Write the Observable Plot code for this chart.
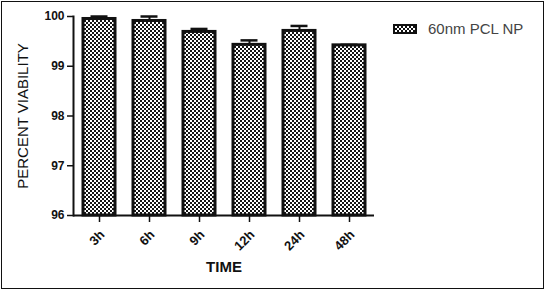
<!DOCTYPE html>
<html>
<head>
<meta charset="utf-8">
<script src="https://cdn.jsdelivr.net/npm/d3@7"></script>
<script src="https://cdn.jsdelivr.net/npm/@observablehq/plot@0.6"></script>
<style>
  html, body { margin: 0; padding: 0; background: #fff; }
  #wrap { position: relative; width: 545px; height: 291px; overflow: hidden; font-family: "Liberation Sans", Arial, sans-serif; }
  #border { position: absolute; left: 1px; top: 1px; width: 541px; height: 286px; border: 1.5px solid #111; }
  #chart { position: absolute; left: 0; top: 0; }
  #legend { position: absolute; left: 393px; top: 20px; display: flex; align-items: center; }
  #legend .sw { width: 20px; height: 6px; border: 2px solid #111;
    background: repeating-conic-gradient(#111 0 25%, #fff 0 50%) 0 0 / 4px 4px; }
  #legend .lab { margin-left: 11px; font-size: 15px; color: #444; }
</style>
</head>
<body>
<div id="wrap">
  <div id="chart"></div>
  <div id="border"></div>
  <div id="legend"><div class="sw"></div><div class="lab"></div></div>
</div>
<script>
const times = ["3h", "6h", "9h", "12h", "24h", "48h"];
const viability = [99.95, 99.91, 99.69, 99.43, 99.71, 99.42];
const errors = [0.05, 0.09, 0.06, 0.09, 0.10, 0.01];
const yTicks = [96, 97, 98, 99, 100];
const seriesName = "60nm PCL NP";
const yLabel = "PERCENT VIABILITY";
const xLabel = "TIME";

const data = times.map((t, i) => ({ time: t, value: viability[i], err: errors[i] }));

const font = "'Liberation Sans', Arial, sans-serif";
const ink = "#111";

const svg = Plot.plot({
  width: 545,
  height: 291,
  marginLeft: 73,
  marginRight: 171,
  marginTop: 16,
  marginBottom: 76,
  style: { fontFamily: font, background: "transparent", color: ink, overflow: "visible" },
  x: { domain: times, paddingInner: 0.36, paddingOuter: 0.19, label: null },
  y: { domain: [96, 100], label: null },
  marks: [
    Plot.barY(data, { x: "time", y1: 96, y2: "value", fill: "url(#chk)", stroke: ink, strokeWidth: 3 }),
    Plot.ruleX(data, { x: "time", y1: "value", y2: d => d.value + d.err, stroke: ink, strokeWidth: 2 }),
    Plot.tickY(data, { x: "time", y: d => d.value + d.err, stroke: ink, strokeWidth: 2.5, insetLeft: 7.5, insetRight: 7.5 }),
    Plot.ruleY([96], { stroke: ink, strokeWidth: 2 }),
    Plot.frame({ anchor: "left", stroke: ink, strokeWidth: 2 }),
    Plot.axisY({ ticks: yTicks, tickSize: 6, tickPadding: 3, fontSize: 12, fontWeight: "bold", tickFormat: d => String(d), strokeWidth: 1.5, label: null }),
    Plot.axisX({ tickSize: 7, text: null, strokeWidth: 1.5, label: null }),
    Plot.axisX({ tickSize: 0, tickPadding: 0, dy: 17, dx: 3, tickRotate: -45, fontSize: 13, fontWeight: "bold", label: null }),
    Plot.text([yLabel], { frameAnchor: "left", rotate: -90, dx: -50.5, fontSize: 15, fill: ink, textAnchor: "middle", lineAnchor: "middle" }),
    Plot.text([xLabel], { frameAnchor: "bottom", dy: 52, fontSize: 15, fontWeight: "bold", fill: ink, lineAnchor: "middle" })
  ]
});

const defs = d3.select(svg).insert("defs", ":first-child");
const pat = defs.append("pattern").attr("id", "chk").attr("patternUnits", "userSpaceOnUse")
  .attr("width", 4).attr("height", 4);
pat.append("rect").attr("width", 4).attr("height", 4).attr("fill", "#fff");
pat.append("rect").attr("width", 2).attr("height", 2).attr("fill", "#151515");
pat.append("rect").attr("x", 2).attr("y", 2).attr("width", 2).attr("height", 2).attr("fill", "#151515");

document.getElementById("chart").appendChild(svg);
document.querySelector("#legend .lab").textContent = seriesName;
</script>
</body>
</html>
